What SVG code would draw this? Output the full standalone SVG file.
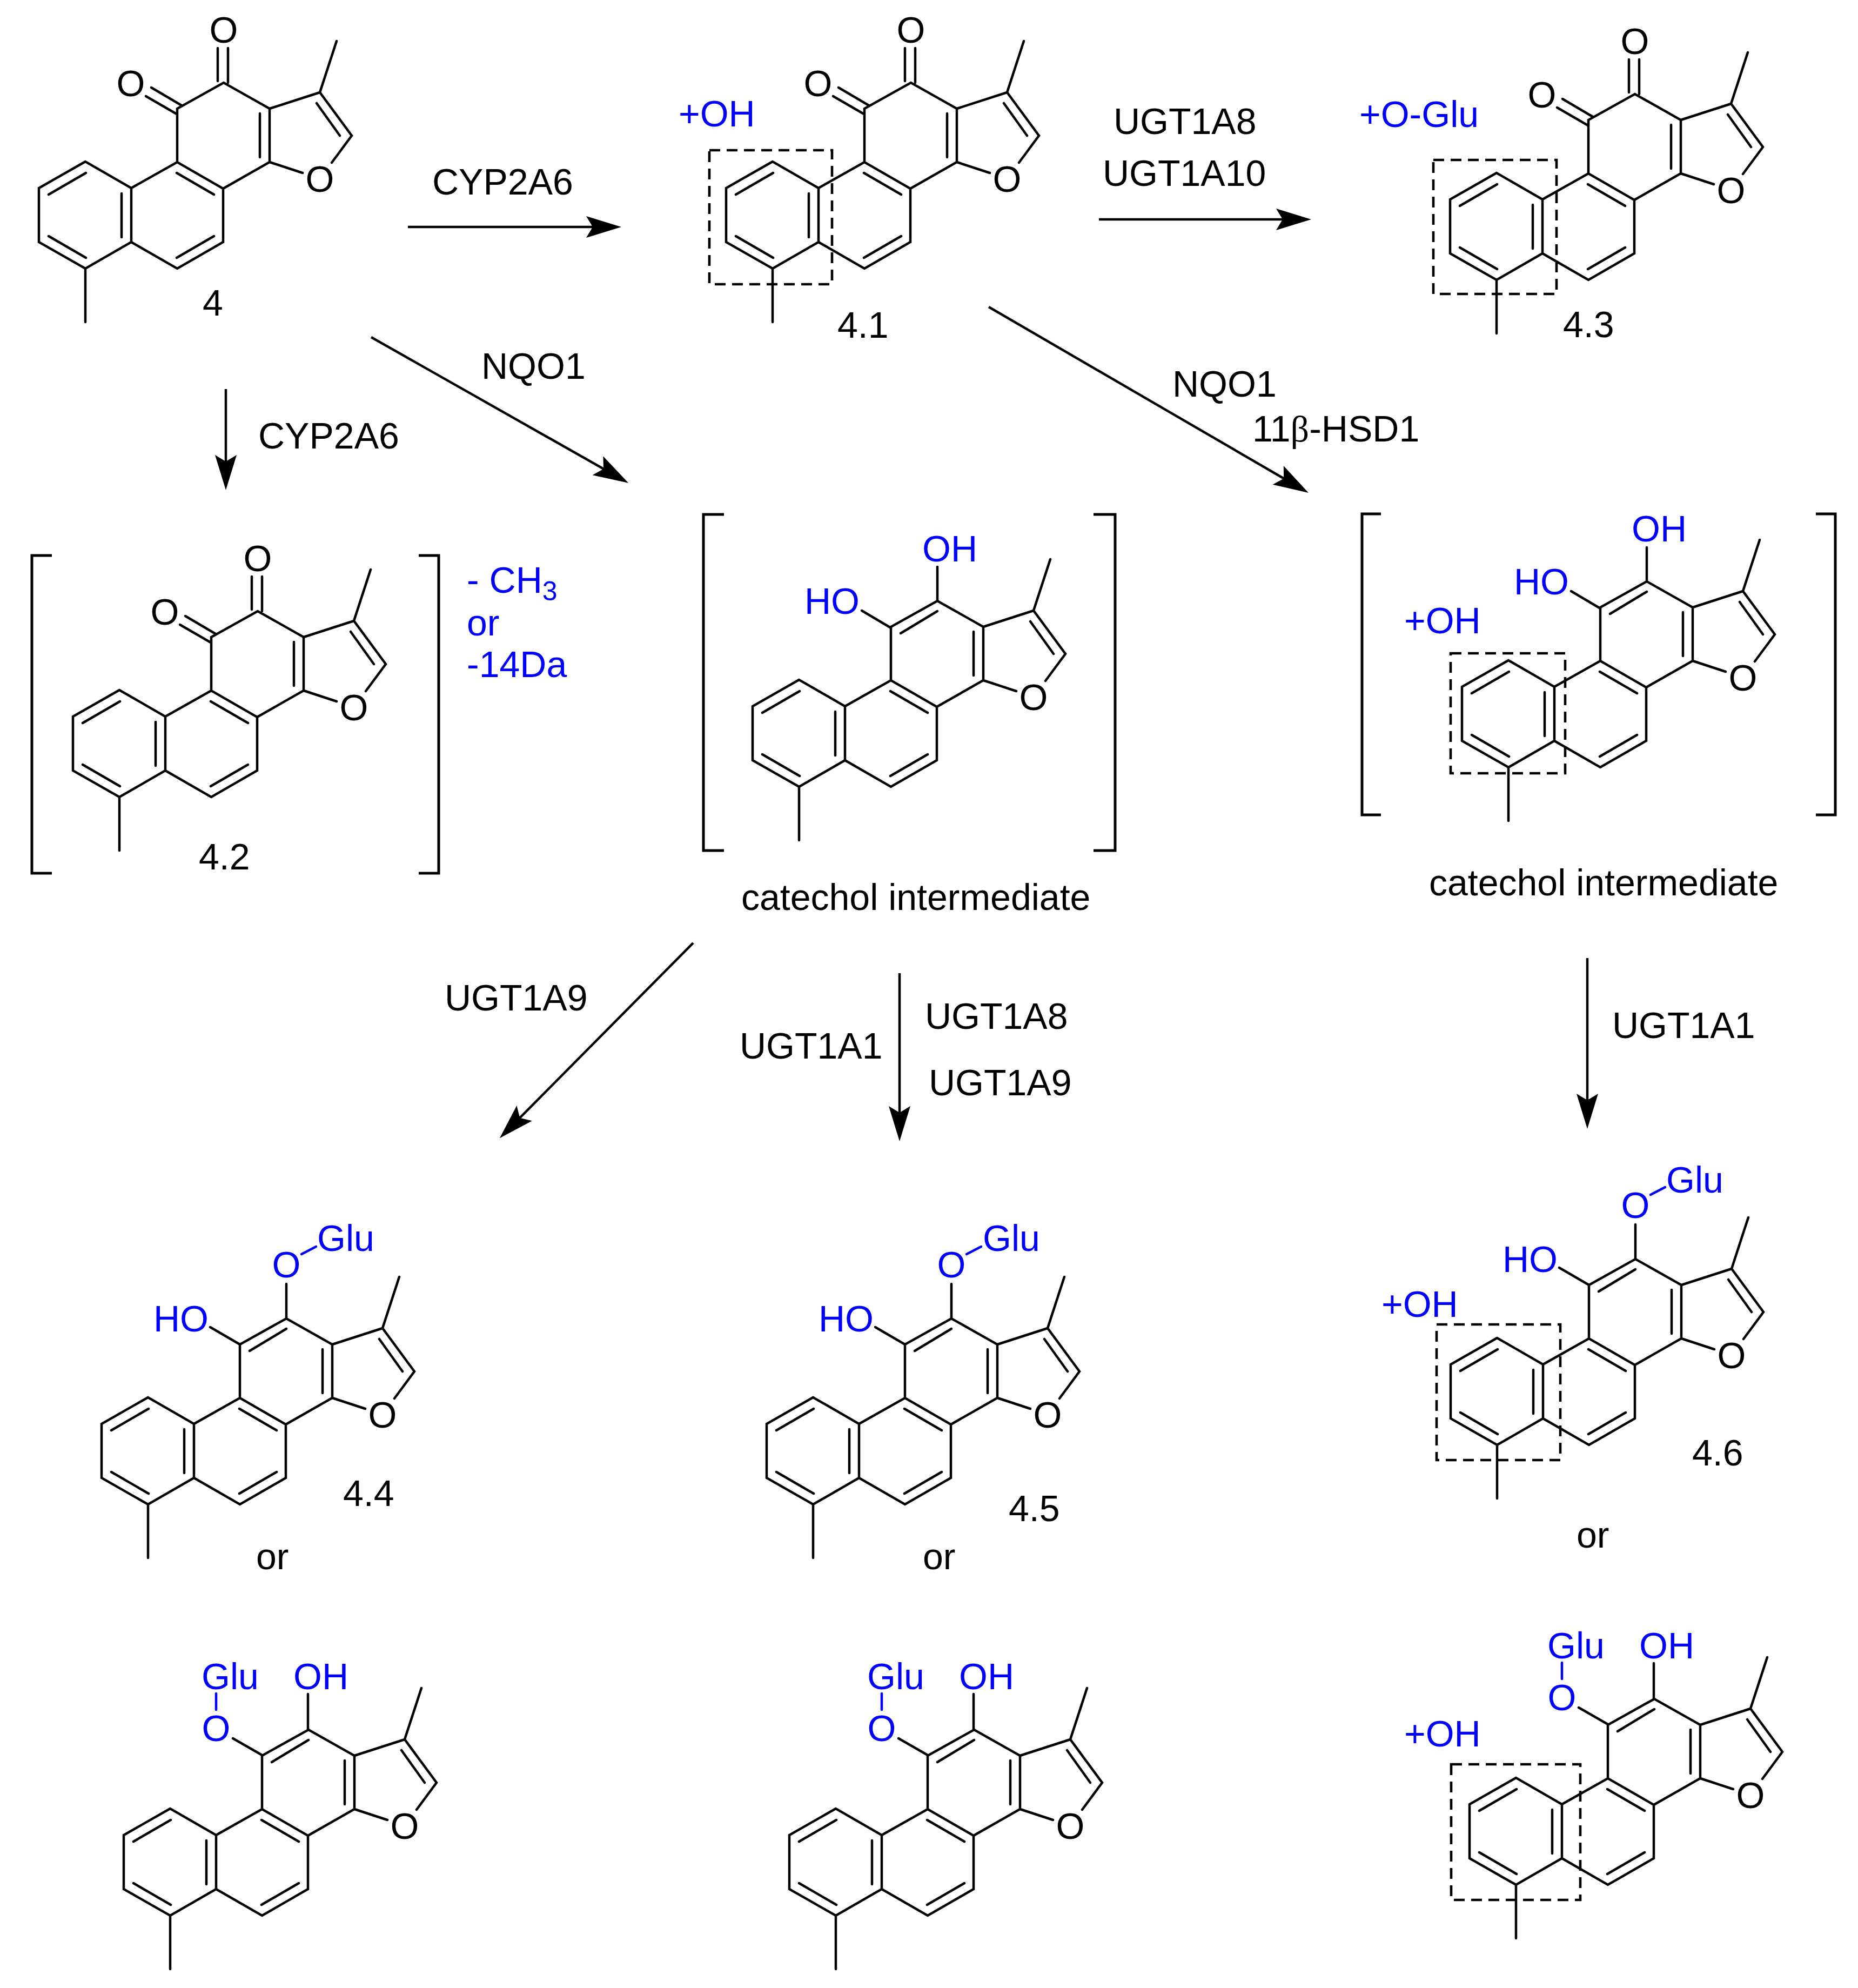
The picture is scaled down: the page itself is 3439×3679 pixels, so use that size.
<svg xmlns="http://www.w3.org/2000/svg" width="3439" height="3679" viewBox="0 0 3439 3679">
<style>
text{font-family:"Liberation Sans",Arial,sans-serif;font-size:68px;fill:#000}
.b{fill:#0000ff}
.m{text-anchor:middle}
.bond{fill:none;stroke:#000;stroke-width:4.5;stroke-linejoin:miter;stroke-linecap:round}
.bb{fill:none;stroke:#0000ff;stroke-width:4.5;stroke-linecap:round}
.br{fill:none;stroke:#000;stroke-width:5;stroke-linejoin:miter}
.box{fill:none;stroke:#000;stroke-width:4.6;stroke-dasharray:20 12}
.arr{fill:none;stroke:#000;stroke-width:4.5;marker-end:url(#head)}
</style>
<defs>
<marker id="head" markerUnits="userSpaceOnUse" markerWidth="70" markerHeight="44" viewBox="0 -22 70 44" refX="35" refY="0" orient="auto">
<path d="M0,-20 L65,0 L0,20 L12,0 Z" fill="#000"/>
</marker>
<path id="skeleton" class="bond" d="M-170,-1 L-256,48 L-256,148 L-170,197 L-85,148 L-85,48 Z M-85,48 L0,0 L85,49 L85,148 L0,197 L-85,148 M0,0 L0,-99 L86,-147 L171,-99 L171,0 L85,49 M171,-99 L264,-129 L323,-49 L286,1 M171,0 L232,20 M264,-129 L295,-224 M-170,197 L-170,296 M-238,60 L-169,20 M-238,137 L-169,177 M-103,58 L-103,139 M-1,20 L68,60 M-1,177 L68,137 M153,-90 L153,-9 M258,-109 L301,-49"/>
<path id="dione" class="bond" d="M75,-211 L75,-150 M94,-211 L94,-147 M-48,-138 L8,-105 M-58,-122 L-1,-89"/>
<path id="catechol" class="bond" d="M18,-87 L86,-128"/>
<path id="catOH" class="bond" d="M86,-210 L86,-147 M-54,-129 L0,-97"/>
<g id="glyA"><path class="bond" d="M86,-211 L86,-147 M-55,-131 L0,-99"/><path class="bb" d="M114,-266 L141,-280"/></g>
<g id="glyB"><path class="bond" d="M85,-213 L85,-147 M-54,-131 L0,-100"/><path class="bb" d="M-85,-214 L-85,-184"/></g>
</defs>

<g id="connectors">
<line class="arr" x1="755" y1="420" x2="1120" y2="420"/>
<line class="arr" x1="2034" y1="406" x2="2397" y2="406"/>
<line class="arr" x1="418" y1="720" x2="418" y2="877"/>
<line class="arr" x1="687" y1="624" x2="1137" y2="879"/>
<line class="arr" x1="1830" y1="568" x2="2396" y2="897"/>
<line class="arr" x1="1283" y1="1745" x2="946" y2="2085"/>
<line class="arr" x1="1665" y1="1801" x2="1665" y2="2082"/>
<line class="arr" x1="2938" y1="1773" x2="2938" y2="2059"/>
</g>

<g id="labels">
<text x="800" y="360">CYP2A6</text>
<text x="2061" y="248">UGT1A8</text>
<text x="2041" y="344">UGT1A10</text>
<text x="891" y="701">NQO1</text>
<text x="478" y="830">CYP2A6</text>
<text x="2170" y="734">NQO1</text>
<text x="2318" y="817">11<tspan font-family="Liberation Serif">β</tspan>-HSD1</text>
<text x="823" y="1870">UGT1A9</text>
<text x="1369" y="1959">UGT1A1</text>
<text x="1712" y="1904">UGT1A8</text>
<text x="1719" y="2027">UGT1A9</text>
<text x="2984" y="1921">UGT1A1</text>
</g>

<g id="node-4" transform="translate(328,300)">
<use href="#skeleton"/><use href="#dione"/>
<text class="m" x="86" y="-221">O</text><text class="m" x="-86" y="-122">O</text><text class="m" x="264" y="55">O</text>
<text x="47" y="284">4</text>
</g>

<g id="node-4-1" transform="translate(1600,300)">
<use href="#skeleton"/><use href="#dione"/>
<rect class="box" x="-287" y="-22" width="227" height="248"/>
<text class="m" x="86" y="-221">O</text><text class="m" x="-86" y="-122">O</text><text class="m" x="264" y="55">O</text>
<text class="b" x="-344" y="-66">+OH</text>
<text x="-50" y="325">4.1</text>
</g>

<g id="node-4-3" transform="translate(2940,321)">
<use href="#skeleton"/><use href="#dione"/>
<rect class="box" x="-287" y="-25" width="228" height="248"/>
<text class="m" x="86" y="-221">O</text><text class="m" x="-86" y="-122">O</text><text class="m" x="264" y="55">O</text>
<text class="b" x="-424" y="-86">+O-Glu</text>
<text x="-47" y="303">4.3</text>
</g>

<g id="node-4-2" transform="translate(391,1278)">
<use href="#skeleton"/><use href="#dione"/>
<path class="br" d="M-295,-250 H-332 V338 H-295 M384,-250 H421 V338 H384"/>
<text class="m" x="86" y="-221">O</text><text class="m" x="-86" y="-122">O</text><text class="m" x="264" y="55">O</text>
<text x="-23" y="331">4.2</text>
<text class="b" x="473" y="-181">- CH<tspan dy="14" font-size="50">3</tspan></text>
<text class="b" x="473" y="-102">or</text>
<text class="b" x="473" y="-25">-14Da</text>
</g>

<g id="node-catechol-1" transform="translate(1649,1259)">
<use href="#skeleton"/><use href="#catechol"/><use href="#catOH"/>
<path class="br" d="M-309,-307 H-347 V315 H-309 M375,-307 H415 V315 H375"/>
<text class="b" x="58" y="-220">OH</text><text class="b" x="-160" y="-123">HO</text><text class="m" x="264" y="55">O</text>
<text x="-277" y="425">catechol intermediate</text>
</g>

<g id="node-catechol-2" transform="translate(2962,1223)">
<use href="#skeleton"/><use href="#catechol"/><use href="#catOH"/>
<rect class="box" x="-277" y="-14" width="212" height="222"/>
<path class="br" d="M-406,-272 H-441 V285 H-406 M399,-272 H435 V285 H399"/>
<text class="b" x="58" y="-221">OH</text><text class="b" x="-160" y="-123">HO</text><text class="b" x="-363" y="-51">+OH</text><text class="m" x="264" y="55">O</text>
<text x="-317" y="434">catechol intermediate</text>
</g>

<g id="node-4-4" transform="translate(444,2587)">
<use href="#skeleton"/><use href="#catechol"/><use href="#glyA"/>
<text class="b m" x="86" y="-223">O</text><text class="b" x="143" y="-272">Glu</text><text class="b" x="-160" y="-123">HO</text><text class="m" x="264" y="55">O</text>
<text x="191" y="200">4.4</text><text x="30" y="317">or</text>
</g>

<g id="node-4-4b" transform="translate(485,3348)">
<use href="#skeleton"/><use href="#catechol"/><use href="#glyB"/>
<text class="b m" x="-85" y="-126">O</text><text class="b" x="-112" y="-222">Glu</text><text class="b" x="58" y="-222">OH</text><text class="m" x="264" y="55">O</text>
</g>

<g id="node-4-5" transform="translate(1675,2587)">
<use href="#skeleton"/><use href="#catechol"/><use href="#glyA"/>
<text class="b m" x="86" y="-223">O</text><text class="b" x="144" y="-272">Glu</text><text class="b" x="-160" y="-123">HO</text><text class="m" x="264" y="55">O</text>
<text x="192" y="228">4.5</text><text x="33" y="317">or</text>
</g>

<g id="node-4-5b" transform="translate(1717,3348)">
<use href="#skeleton"/><use href="#catechol"/><use href="#glyB"/>
<text class="b m" x="-85" y="-126">O</text><text class="b" x="-112" y="-222">Glu</text><text class="b" x="58" y="-222">OH</text><text class="m" x="264" y="55">O</text>
</g>

<g id="node-4-6" transform="translate(2941,2477)">
<use href="#skeleton"/><use href="#catechol"/><use href="#glyA"/>
<rect class="box" x="-282" y="-26" width="229" height="251"/>
<text class="b m" x="86" y="-223">O</text><text class="b" x="143" y="-270">Glu</text><text class="b" x="-160" y="-123">HO</text><text class="b" x="-384" y="-40">+OH</text><text class="m" x="264" y="55">O</text>
<text x="191" y="235">4.6</text><text x="-23" y="387">or</text>
</g>

<g id="node-4-6b" transform="translate(2976,3291)">
<use href="#skeleton"/><use href="#catechol"/><use href="#glyB"/>
<rect class="box" x="-290" y="-26" width="239" height="251"/>
<text class="b m" x="-85" y="-126">O</text><text class="b" x="-112" y="-222">Glu</text><text class="b" x="58" y="-222">OH</text><text class="b" x="-377" y="-59">+OH</text><text class="m" x="264" y="55">O</text>
</g>
</svg>
